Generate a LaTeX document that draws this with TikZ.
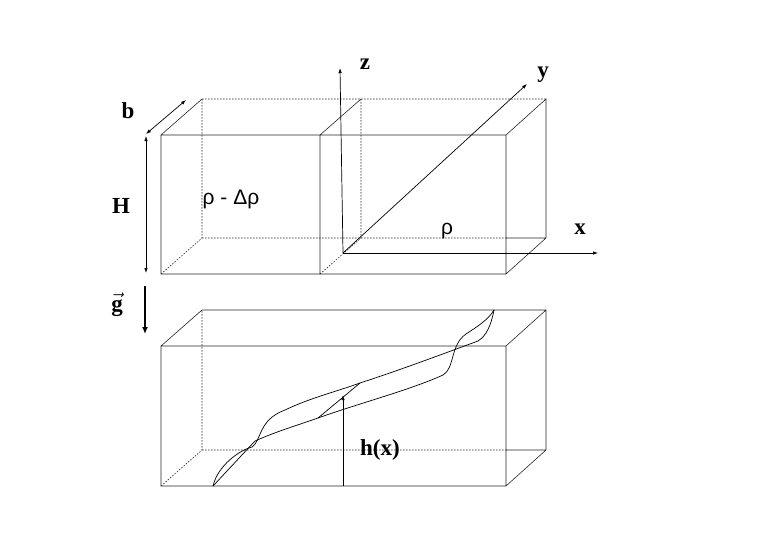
\documentclass[tikz,border=0pt]{standalone}
\usepackage{fontspec}
\setmainfont{Liberation Serif}
\newfontfamily\grk{Liberation Sans}
\usetikzlibrary{arrows.meta}
\tikzset{edge/.style={draw=black!85,line width=0.6pt},
hid/.style={draw=black!85,line width=0.6pt,dash pattern=on 1.5pt off 1.5pt},
ax/.style={draw=black,line width=0.7pt,-{Latex[length=5pt,width=3.5pt]}},
lab/.style={font=\bfseries\fontsize{23}{23}\selectfont},
glab/.style={font=\grk\fontsize{21}{21}\selectfont},
curve/.style={draw=black,line width=0.7pt}}
\begin{document}
\begin{tikzpicture}[x=1pt,y=-1pt]
\useasboundingbox (0,0) rectangle (763,539);
% top box
\coordinate (A1) at (161,274); \coordinate (A2) at (506,274);
\coordinate (A3) at (506,135); \coordinate (A4) at (161,135);
\coordinate (B1) at (202,238); \coordinate (B2) at (546,238);
\coordinate (B3) at (546,99); \coordinate (B4) at (202,99);
\coordinate (D1) at (320,274); \coordinate (D4) at (320,135);
\coordinate (E1) at (361,238); \coordinate (E4) at (361,99);
\path[hid] (A1) -- (B1) -- (B4) (B1) -- (506,238) (D1) -- (E1) -- (E4) (B4) -- (B3);
\path[edge] (A1) -- (A2) -- (A3) -- (A4) -- cycle (D1) -- (D4) -- (E4)
 (A4) -- (B4) (A3) -- (B3) -- (B2) -- (A2) (506,238) -- (B2);
% axes
\coordinate (O) at (343,253);
\coordinate (Z) at (340,68); \coordinate (Y) at (527,84); \coordinate (X) at (598,253);
\draw[ax] (O) -- (Z); \draw[ax] (O) -- (Y); \draw[ax] (O) -- (X);
\node[lab] (zl) at (365,64) {z};
\node[lab] (yl) at (543,75) {y};
\node[lab] (xl) at (580,229) {x};
\node[glab] (rho) at (447,231) {ρ};
\node[glab] (rho2) at (231,199) {ρ - Δρ};
% b, H
\coordinate (b1) at (146,134); \coordinate (b2) at (186,100);
\draw[ax,{Latex[length=5pt,width=3.5pt]}-{Latex[length=5pt,width=3.5pt]}] (b1) -- (b2);
\node[lab] (bl) at (128,111) {b};
\coordinate (h1) at (146,136); \coordinate (h2) at (146,273);
\draw[ax,{Latex[length=5pt,width=3.5pt]}-{Latex[length=5pt,width=3.5pt]}] (h1) -- (h2);
\node[lab] (Hl) at (121,206) {H};
% g
\coordinate (g1) at (145,286); \coordinate (g2) at (145,334);
\draw[draw=black,line width=1.4pt,-{Latex[length=7pt,width=6pt]}] (g1) -- (g2);
\node[lab] (gl) at (117,305) {$\vec{\textbf{g}}$};
% bottom box
\coordinate (P1) at (161,486); \coordinate (P2) at (506,486);
\coordinate (P3) at (506,346); \coordinate (P4) at (161,346);
\coordinate (Q1) at (202,450); \coordinate (Q2) at (546,450);
\coordinate (Q3) at (546,310); \coordinate (Q4) at (202,310);
\path[hid] (P1) -- (Q1) -- (Q4) (Q1) -- (506,450);
\path[edge] (P1) -- (P2) -- (P3) -- (P4) -- cycle (P4) -- (Q4) -- (Q3) -- (Q2) -- (P2) (P3) -- (Q3) (506,450) -- (Q2);
% interface
\coordinate (S) at (213,486); \coordinate (T) at (494,310);
\coordinate (M1) at (318,418); \coordinate (M2) at (360,383);
\draw[curve] (S) -- (255,441) .. controls (275,432) and (295,426) .. (M1)
 .. controls (360,403) and (410,390) .. (443,375)
 .. controls (455,368) and (450,345) .. (466,334) .. controls (478,326) and (488,320) .. (T);
\draw[curve] (S) .. controls (218,465) and (240,450) .. (252,447)
 .. controls (262,440) and (258,420) .. (285,410)
 .. controls (310,398) and (335,392) .. (M2)
 .. controls (400,370) and (440,355) .. (478,341)
 .. controls (486,336) and (491,326) .. (T);
\draw[curve] (M1) -- (M2);
\coordinate (hb) at (343,486); \coordinate (ht) at (343,395);
\draw[ax] (hb) -- (ht);
\node[lab] (hl) at (380,450) {h(x)};
\end{tikzpicture}
\end{document}
